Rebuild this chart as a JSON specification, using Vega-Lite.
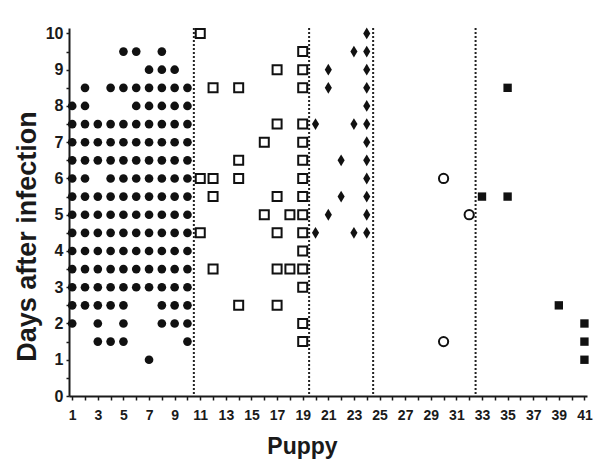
{
"$schema": "https://vega.github.io/schema/vega-lite/v6.json",
"width": 518, "height": 368,
"autosize": {"type": "none"},
"padding": {"left": 69, "top": 28, "right": 20, "bottom": 78},
"background": "white",
"config": {"view": {"stroke": null}, "font": "Liberation Sans",
 "axis": {"domainColor": "#1a1a1a", "domainWidth": 2, "tickColor": "#1a1a1a", "tickWidth": 1.5, "grid": false, "labelFont": "Liberation Sans", "labelFontWeight": "bold", "labelColor": "#1a1a1a", "titleColor": "#1a1a1a", "titleFont": "Liberation Sans", "titleFontWeight": "bold", "labelOverlap": false, "labelFlush": false}},
"datasets": {
 "pts": [
 {"g":"A","p":5,"d":9.5},{"g":"A","p":6,"d":9.5},{"g":"A","p":8,"d":9.5},
 {"g":"A","p":7,"d":9},{"g":"A","p":8,"d":9},{"g":"A","p":9,"d":9},
 {"g":"A","p":2,"d":8.5},{"g":"A","p":4,"d":8.5},{"g":"A","p":5,"d":8.5},{"g":"A","p":6,"d":8.5},{"g":"A","p":7,"d":8.5},{"g":"A","p":8,"d":8.5},{"g":"A","p":9,"d":8.5},{"g":"A","p":10,"d":8.5},
 {"g":"A","p":1,"d":8},{"g":"A","p":2,"d":8},{"g":"A","p":6,"d":8},{"g":"A","p":7,"d":8},{"g":"A","p":8,"d":8},{"g":"A","p":9,"d":8},{"g":"A","p":10,"d":8},
 {"g":"A","p":1,"d":7.5},{"g":"A","p":2,"d":7.5},{"g":"A","p":3,"d":7.5},{"g":"A","p":4,"d":7.5},{"g":"A","p":5,"d":7.5},{"g":"A","p":6,"d":7.5},{"g":"A","p":7,"d":7.5},{"g":"A","p":8,"d":7.5},{"g":"A","p":9,"d":7.5},{"g":"A","p":10,"d":7.5},
 {"g":"A","p":1,"d":7},{"g":"A","p":2,"d":7},{"g":"A","p":3,"d":7},{"g":"A","p":4,"d":7},{"g":"A","p":5,"d":7},{"g":"A","p":6,"d":7},{"g":"A","p":7,"d":7},{"g":"A","p":8,"d":7},{"g":"A","p":9,"d":7},{"g":"A","p":10,"d":7},
 {"g":"A","p":1,"d":6.5},{"g":"A","p":2,"d":6.5},{"g":"A","p":3,"d":6.5},{"g":"A","p":4,"d":6.5},{"g":"A","p":5,"d":6.5},{"g":"A","p":6,"d":6.5},{"g":"A","p":7,"d":6.5},{"g":"A","p":8,"d":6.5},{"g":"A","p":9,"d":6.5},{"g":"A","p":10,"d":6.5},
 {"g":"A","p":1,"d":6},{"g":"A","p":2,"d":6},{"g":"A","p":4,"d":6},{"g":"A","p":5,"d":6},{"g":"A","p":6,"d":6},{"g":"A","p":7,"d":6},{"g":"A","p":8,"d":6},{"g":"A","p":9,"d":6},{"g":"A","p":10,"d":6},
 {"g":"A","p":1,"d":5.5},{"g":"A","p":2,"d":5.5},{"g":"A","p":3,"d":5.5},{"g":"A","p":4,"d":5.5},{"g":"A","p":5,"d":5.5},{"g":"A","p":6,"d":5.5},{"g":"A","p":7,"d":5.5},{"g":"A","p":8,"d":5.5},{"g":"A","p":9,"d":5.5},{"g":"A","p":10,"d":5.5},
 {"g":"A","p":1,"d":5},{"g":"A","p":2,"d":5},{"g":"A","p":3,"d":5},{"g":"A","p":4,"d":5},{"g":"A","p":5,"d":5},{"g":"A","p":6,"d":5},{"g":"A","p":7,"d":5},{"g":"A","p":8,"d":5},{"g":"A","p":9,"d":5},{"g":"A","p":10,"d":5},
 {"g":"A","p":1,"d":4.5},{"g":"A","p":2,"d":4.5},{"g":"A","p":3,"d":4.5},{"g":"A","p":4,"d":4.5},{"g":"A","p":5,"d":4.5},{"g":"A","p":6,"d":4.5},{"g":"A","p":7,"d":4.5},{"g":"A","p":8,"d":4.5},{"g":"A","p":9,"d":4.5},{"g":"A","p":10,"d":4.5},
 {"g":"A","p":1,"d":4},{"g":"A","p":2,"d":4},{"g":"A","p":3,"d":4},{"g":"A","p":4,"d":4},{"g":"A","p":5,"d":4},{"g":"A","p":6,"d":4},{"g":"A","p":7,"d":4},{"g":"A","p":8,"d":4},{"g":"A","p":9,"d":4},{"g":"A","p":10,"d":4},
 {"g":"A","p":1,"d":3.5},{"g":"A","p":2,"d":3.5},{"g":"A","p":3,"d":3.5},{"g":"A","p":4,"d":3.5},{"g":"A","p":5,"d":3.5},{"g":"A","p":6,"d":3.5},{"g":"A","p":7,"d":3.5},{"g":"A","p":8,"d":3.5},{"g":"A","p":9,"d":3.5},{"g":"A","p":10,"d":3.5},
 {"g":"A","p":1,"d":3},{"g":"A","p":2,"d":3},{"g":"A","p":3,"d":3},{"g":"A","p":4,"d":3},{"g":"A","p":5,"d":3},{"g":"A","p":6,"d":3},{"g":"A","p":7,"d":3},{"g":"A","p":8,"d":3},{"g":"A","p":9,"d":3},{"g":"A","p":10,"d":3},
 {"g":"A","p":1,"d":2.5},{"g":"A","p":2,"d":2.5},{"g":"A","p":3,"d":2.5},{"g":"A","p":4,"d":2.5},{"g":"A","p":5,"d":2.5},{"g":"A","p":8,"d":2.5},{"g":"A","p":9,"d":2.5},{"g":"A","p":10,"d":2.5},
 {"g":"A","p":1,"d":2},{"g":"A","p":3,"d":2},{"g":"A","p":5,"d":2},{"g":"A","p":8,"d":2},{"g":"A","p":9,"d":2},{"g":"A","p":10,"d":2},
 {"g":"A","p":3,"d":1.5},{"g":"A","p":4,"d":1.5},{"g":"A","p":5,"d":1.5},{"g":"A","p":10,"d":1.5},
 {"g":"A","p":7,"d":1},
 {"g":"B","p":11,"d":10},
 {"g":"B","p":19,"d":9.5},
 {"g":"B","p":17,"d":9},{"g":"B","p":19,"d":9},
 {"g":"B","p":12,"d":8.5},{"g":"B","p":14,"d":8.5},{"g":"B","p":19,"d":8.5},
 {"g":"B","p":17,"d":7.5},{"g":"B","p":19,"d":7.5},
 {"g":"B","p":16,"d":7},{"g":"B","p":19,"d":7},
 {"g":"B","p":14,"d":6.5},{"g":"B","p":19,"d":6.5},
 {"g":"B","p":11,"d":6},{"g":"B","p":12,"d":6},{"g":"B","p":14,"d":6},{"g":"B","p":19,"d":6},
 {"g":"B","p":12,"d":5.5},{"g":"B","p":17,"d":5.5},{"g":"B","p":19,"d":5.5},
 {"g":"B","p":16,"d":5},{"g":"B","p":18,"d":5},{"g":"B","p":19,"d":5},
 {"g":"B","p":11,"d":4.5},{"g":"B","p":17,"d":4.5},{"g":"B","p":19,"d":4.5},
 {"g":"B","p":19,"d":4},
 {"g":"B","p":12,"d":3.5},{"g":"B","p":17,"d":3.5},{"g":"B","p":18,"d":3.5},{"g":"B","p":19,"d":3.5},
 {"g":"B","p":19,"d":3},
 {"g":"B","p":14,"d":2.5},{"g":"B","p":17,"d":2.5},
 {"g":"B","p":19,"d":2},
 {"g":"B","p":19,"d":1.5},
 {"g":"C","p":24,"d":10},
 {"g":"C","p":23,"d":9.5},{"g":"C","p":24,"d":9.5},
 {"g":"C","p":21,"d":9},{"g":"C","p":24,"d":9},
 {"g":"C","p":21,"d":8.5},{"g":"C","p":24,"d":8.5},
 {"g":"C","p":24,"d":8},
 {"g":"C","p":20,"d":7.5},{"g":"C","p":23,"d":7.5},{"g":"C","p":24,"d":7.5},
 {"g":"C","p":24,"d":7},
 {"g":"C","p":22,"d":6.5},{"g":"C","p":24,"d":6.5},
 {"g":"C","p":24,"d":6},
 {"g":"C","p":22,"d":5.5},{"g":"C","p":24,"d":5.5},
 {"g":"C","p":21,"d":5},{"g":"C","p":24,"d":5},
 {"g":"C","p":20,"d":4.5},{"g":"C","p":23,"d":4.5},{"g":"C","p":24,"d":4.5},
 {"g":"D","p":30,"d":6},{"g":"D","p":32,"d":5},{"g":"D","p":30,"d":1.5},
 {"g":"E","p":35,"d":8.5},{"g":"E","p":33,"d":5.5},{"g":"E","p":35,"d":5.5},{"g":"E","p":39,"d":2.5},{"g":"E","p":41,"d":2},{"g":"E","p":41,"d":1.5},{"g":"E","p":41,"d":1}
 ],
 "lines": [{"v":10.5},{"v":19.5},{"v":24.5},{"v":32.5}]
},
"encoding": {
 "x": {"field": "p", "type": "quantitative", "scale": {"domain": [0.75, 41.2], "nice": false, "zero": false},
  "axis": {"values": [1,2,3,4,5,6,7,8,9,10,11,12,13,14,15,16,17,18,19,20,21,22,23,24,25,26,27,28,29,30,31,32,33,34,35,36,37,38,39,40,41],
   "labelExpr": "datum.value % 2 == 1 ? format(datum.value, 'd') : ''", "labelFontSize": 14, "tickSize": 4, "labelPadding": 8,
   "title": "Puppy", "titleFontSize": 23, "titleX": 233, "titleY": 57, "titleAlign": "center", "titleBaseline": "alphabetic"}},
 "y": {"field": "d", "type": "quantitative", "scale": {"domain": [0, 10.15], "nice": false, "zero": true},
  "axis": {"values": [0,0.5,1,1.5,2,2.5,3,3.5,4,4.5,5,5.5,6,6.5,7,7.5,8,8.5,9,9.5,10],
   "labelExpr": "datum.value % 1 == 0 ? format(datum.value, 'd') : ''", "labelFontSize": 16, "tickSize": 3, "labelPadding": 3,
   "title": "Days after infection", "titleFontSize": 27, "titleX": -34, "titleY": 208, "titleAngle": -90, "titleAlign": "center", "titleBaseline": "alphabetic"}}
},
"layer": [
 {"data": {"name": "lines"}, "mark": {"type": "rule", "color": "#222", "strokeWidth": 2, "strokeDash": [2, 2]},
  "encoding": {"x": {"field": "v", "type": "quantitative"}, "y": null}},
 {"data": {"name": "pts"}, "transform": [{"filter": "datum.g == 'A'"}],
  "mark": {"type": "point", "shape": "circle", "filled": true, "color": "#111", "size": 75, "opacity": 1}},
 {"data": {"name": "pts"}, "transform": [{"filter": "datum.g == 'B'"}],
  "mark": {"type": "point", "shape": "square", "fill": "white", "stroke": "#111", "strokeWidth": 2, "size": 81, "opacity": 1}},
 {"data": {"name": "pts"}, "transform": [{"filter": "datum.g == 'C'"}],
  "mark": {"type": "point", "shape": "M0,-1L0.6,0L0,1L-0.6,0Z", "filled": true, "color": "#111", "size": 140, "opacity": 1}},
 {"data": {"name": "pts"}, "transform": [{"filter": "datum.g == 'D'"}],
  "mark": {"type": "point", "shape": "circle", "fill": "white", "stroke": "#111", "strokeWidth": 2, "size": 85, "opacity": 1}},
 {"data": {"name": "pts"}, "transform": [{"filter": "datum.g == 'E'"}],
  "mark": {"type": "point", "shape": "square", "filled": true, "color": "#111", "size": 70, "opacity": 1}}
]
}
